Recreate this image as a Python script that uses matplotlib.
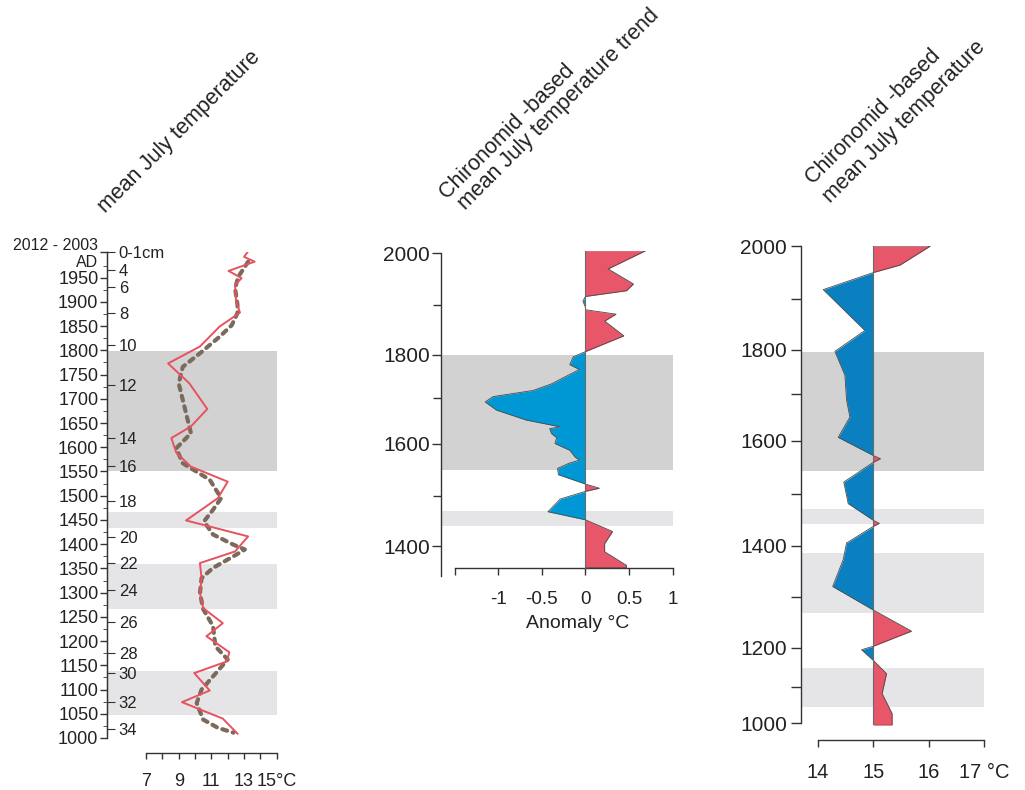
import numpy as np
import matplotlib
matplotlib.use("Agg")
import matplotlib.pyplot as plt

plt.rcParams["font.family"] = ["Liberation Sans", "DejaVu Sans"]

W, H = 1025, 790

# measured July temperature (solid) and its smoothed trend (dashed), year AD
obs_year = [2002, 1993, 1983, 1964, 1949, 1935, 1904, 1878, 1849, 1808, 1773,
            1732, 1679, 1643, 1619, 1589, 1560, 1529, 1512, 1495, 1449, 1416,
            1385, 1361, 1330, 1299, 1268, 1237, 1210, 1177, 1158, 1134, 1098,
            1074, 1040, 1009]
obs_temp = [13.2, 13.0, 13.65, 12.05, 12.85, 12.45, 12.5, 12.75, 11.5, 10.3, 8.35,
            9.65, 10.75, 9.75, 8.55, 8.85, 9.75, 12.0, 11.7, 11.4, 9.45, 13.25,
            12.45, 10.3, 10.4, 10.3, 10.5, 11.7, 10.7, 12.1, 11.95, 9.95, 10.9,
            9.2, 11.7, 12.6]
smooth_year = [1983, 1952, 1928, 1894, 1877, 1852, 1828, 1794, 1766, 1732, 1684,
               1629, 1598, 1567, 1533, 1495, 1471, 1447, 1420, 1399, 1389, 1375,
               1351, 1330, 1299, 1266, 1231, 1189, 1162, 1127, 1100, 1072, 1038,
               1021, 1011]
smooth_temp = [13.25, 12.65, 12.45, 12.6, 12.6, 12.25, 11.5, 10.3, 9.25, 9.0, 9.35,
               9.75, 8.85, 9.25, 10.9, 11.6, 11.1, 10.55, 11.1, 12.35, 13.05, 12.35,
               11.1, 10.4, 10.3, 10.5, 11.1, 11.25, 12.0, 11.1, 10.4, 10.1, 10.5,
               11.4, 12.35]

# sediment depth marks on the left age axis
depth_labels = ["0-1cm", "4", "6", "8", "10", "12", "14", "16", "18", "20",
                "22", "24", "26", "28", "30", "32", "34"]
depth_year = [2003, 1966, 1931, 1877, 1811, 1729, 1620, 1562, 1490, 1415,
              1362, 1305, 1239, 1176, 1135, 1075, 1018]

# chironomid-based July temperature trend (anomaly, °C)
trend_year = [2005, 2005, 1970, 1961, 1941, 1928, 1917, 1908, 1896, 1891, 1882,
              1868, 1838, 1806, 1795, 1777, 1766, 1733, 1718, 1704, 1692, 1674,
              1652, 1637, 1633, 1622, 1613, 1600, 1587, 1574, 1568, 1562, 1552,
              1540, 1522, 1514, 1508, 1493, 1468, 1452, 1429, 1405, 1389, 1362,
              1357, 1357]
trend_anom = [0.0, 0.69, 0.26, 0.35, 0.55, 0.47, 0.0, -0.03, 0.0, 0.0, 0.35,
              0.22, 0.44, 0.0, -0.14, -0.18, -0.07, -0.39, -0.6, -1.06, -1.15, -1.02,
              -0.68, -0.29, -0.41, -0.39, -0.33, -0.35, -0.18, -0.12, -0.07, -0.19, -0.32,
              -0.31, 0.0, 0.16, 0.0, -0.29, -0.43, 0.0, 0.31, 0.22, 0.22, 0.47,
              0.47, 0.0]

# chironomid-based July temperature (°C), drawn against 15 °C
recon_year = [2000, 2000, 1964, 1950, 1918, 1838, 1796, 1743, 1688, 1651, 1607,
              1572, 1566, 1559, 1522, 1481, 1449, 1443, 1437, 1405, 1373, 1321,
              1275, 1233, 1203, 1195, 1168, 1134, 1082, 1027, 995, 995]
recon_temp = [15.0, 16.03, 15.48, 15.0, 14.1, 14.85, 14.31, 14.49, 14.52, 14.58, 14.37,
              15.0, 15.13, 15.0, 14.47, 14.55, 15.0, 15.11, 15.0, 14.52, 14.46, 14.27,
              15.0, 15.69, 15.0, 14.79, 15.0, 15.24, 15.16, 15.34, 15.34, 15.0]
recon_base = 15.0

# age-depth model used for the chironomid columns (depth in cm)
age_model_year = np.array([900, 1000, 1100, 1200, 1300, 1400, 1500, 1600, 1700,
                           1800, 1900, 2000, 2050])
age_model_depth = np.array([36.7, 34.1, 31.5, 28.7, 25.1, 21.4, 17.7, 13.9, 10.6,
                            7.4, 3.8, 0.0, -1.9])

# cold periods (year ranges)
cold_left = [(1798, 1550), (1466, 1434), (1359, 1267), (1139, 1048)]
cold_mid = [(1800, 1549), (1469, 1440)]
cold_right = [(1795, 1542), (1470, 1442), (1385, 1269), (1148, 1044)]

RED = "#e8566a"
BLUE_MID = "#0098d4"
BLUE_RIGHT = "#0a80c0"
LINE_RED = "#e8525f"
DASH = "#7b6b5d"
SHADE_DARK = "#d2d2d2"
SHADE_LIGHT = "#e5e5e7"
SPINE = "#333333"
TEXT = "#222222"


def to_depth(y):
    return np.interp(y, age_model_year, -age_model_depth)


def to_year(d):
    return np.interp(d, -age_model_depth, age_model_year)


def rect(x0, y0, x1, y1):
    return [x0 / W, 1 - y1 / H, (x1 - x0) / W, (y1 - y0) / H]


def shade(ax, bands):
    for i, (top, bottom) in enumerate(bands):
        ax.axhspan(bottom, top, color=SHADE_DARK if i == 0 else SHADE_LIGHT,
                   lw=0, zorder=0)


def style_axes(ax):
    for side in ("top", "right"):
        ax.spines[side].set_visible(False)
    for side in ("left", "bottom"):
        ax.spines[side].set_color(SPINE)
        ax.spines[side].set_linewidth(1.0)
    ax.tick_params(colors=SPINE, labelcolor=TEXT, width=1.0)
    ax.patch.set_visible(False)


fig = plt.figure(figsize=(W / 100, H / 100), dpi=100)

# ---- left: measured temperature with depth scale
ax1 = fig.add_axes(rect(107, 252.0, 276.7, 738))
style_axes(ax1)
shade(ax1, cold_left)
ax1.plot(smooth_temp, smooth_year, color=DASH, lw=3.0, dashes=(1.2, 1.4),
         dash_capstyle="round", zorder=2)
ax1.plot(obs_temp, obs_year, color=LINE_RED, lw=1.4, zorder=3)
ax1.set_xlim(4.61, 15.0)
ax1.set_ylim(1000, 2003)
ax1.spines["left"].set_bounds(1000, 2003)
ax1.spines["bottom"].set_position(("outward", 10.8))
ax1.spines["bottom"].set_bounds(7, 15)
ax1.set_xticks(range(7, 16))
ax1.set_xticklabels(["7", "", "9", "", "11", "", "13", "", "15°C"])
ax1.tick_params(axis="x", length=4, pad=10.5, labelsize=13)
year_ticks = [2003] + list(range(1950, 999, -50))
year_labels = ["2012 - 2003\nAD"] + [str(y) for y in range(1950, 999, -50)]
ax1.set_yticks(year_ticks)
ax1.set_yticklabels(year_labels, multialignment="right", linespacing=1.1)
ax1.set_yticks(range(1025, 2000, 50), minor=True)
ax1.tick_params(axis="y", which="major", length=5, pad=1.2, labelsize=13)
ax1.tick_params(axis="y", which="minor", length=3, color=SPINE)
ax1.yaxis.get_majorticklabels()[0].set_fontsize(11.5)

axd = ax1.twinx()
axd.set_ylim(ax1.get_ylim())
for side in ("top", "left", "bottom"):
    axd.spines[side].set_visible(False)
axd.spines["right"].set_position(("axes", 0.0))
axd.spines["right"].set_bounds(1000, 2003)
axd.spines["right"].set_color(SPINE)
axd.set_yticks(depth_year)
axd.set_yticklabels(depth_labels)
axd.tick_params(axis="y", length=5.5, pad=3, labelsize=12, colors=SPINE,
                labelcolor=TEXT)

# ---- middle: temperature trend anomaly
ax2 = fig.add_axes(rect(441, 250.7, 672.7, 575.5))
style_axes(ax2)
ax2.set_yscale("function", functions=(to_depth, to_year))
shade(ax2, cold_mid)
t_year = np.array(trend_year)
t_anom = np.array(trend_anom)
ax2.fill_betweenx(t_year, 0, np.clip(t_anom, 0, None), color=RED, lw=0, zorder=2)
ax2.fill_betweenx(t_year, 0, np.clip(t_anom, None, 0), color=BLUE_MID, lw=0, zorder=2)
ax2.plot(t_anom, t_year, color="#4a4a4a", lw=0.6, zorder=3)
ax2.axvline(0, ymin=0.022, color="#6a6a6a", lw=0.8, zorder=3)
ax2.set_xlim(-1.656, 1.0)
ax2.set_ylim(1342, 2005)
ax2.spines["left"].set_bounds(1342, 2000)
ax2.spines["bottom"].set_position(("outward", -5.2))
ax2.spines["bottom"].set_bounds(-1.5, 1.0)
ax2.set_xticks([-1.5, -1, -0.5, 0, 0.5, 1])
ax2.set_xticklabels(["", "-1", "-0.5", "0", "0.5", "1"])
ax2.tick_params(axis="x", length=5, pad=11.5, labelsize=13.5)
ax2.set_yticks([1400, 1600, 1800, 2000])
ax2.set_yticklabels(["1400", "1600", "1800", "2000"])
ax2.set_yticks([1500, 1700, 1900], minor=True)
ax2.yaxis.set_minor_formatter(matplotlib.ticker.NullFormatter())
ax2.tick_params(axis="y", which="major", length=6.5, pad=1.5, labelsize=15)
ax2.tick_params(axis="y", which="minor", length=6, width=1.0, color=SPINE)

# ---- right: reconstructed temperature
ax3 = fig.add_axes(rect(801, 246, 984.3, 725.2))
style_axes(ax3)
ax3.set_yscale("function", functions=(to_depth, to_year))
shade(ax3, cold_right)
r_year = np.array(recon_year)
r_temp = np.array(recon_temp)
ax3.fill_betweenx(r_year, recon_base, np.clip(r_temp, recon_base, None),
                  color=RED, lw=0, zorder=2)
ax3.fill_betweenx(r_year, recon_base, np.clip(r_temp, None, recon_base),
                  color=BLUE_RIGHT, lw=0, zorder=2)
ax3.plot(r_temp, r_year, color="#4a4a4a", lw=0.6, zorder=3)
ax3.axvline(recon_base, color="#6a6a6a", lw=0.8, zorder=3)
ax3.set_xlim(13.70, 17.0)
ax3.set_ylim(995, 2000)
ax3.spines["left"].set_bounds(1000, 2000)
ax3.spines["bottom"].set_position(("outward", 10.7))
ax3.spines["bottom"].set_bounds(14, 17)
ax3.set_xticks([14, 15, 16, 17])
ax3.set_xticklabels(["14", "15", "16", "17 °C"])
ax3.tick_params(axis="x", length=5, pad=11.5, labelsize=14.5)
ax3.set_yticks(range(1000, 2001, 200))
ax3.set_yticklabels([str(y) for y in range(1000, 2001, 200)])
ax3.set_yticks(range(1100, 2000, 200), minor=True)
ax3.yaxis.set_minor_formatter(matplotlib.ticker.NullFormatter())
ax3.tick_params(axis="y", which="both", length=7, pad=3, labelsize=15)
ax3.tick_params(axis="y", which="minor", width=1.0, color=SPINE)

# ---- column headings
def heading(px, py, text):
    fig.text(px / W, 1 - py / H, text, rotation=45, rotation_mode="anchor",
             ha="left", va="baseline", fontsize=15.5, color=TEXT)


heading(105, 213, "mean July temperature")
heading(447, 200, "Chironomid -based")
heading(465, 210, "mean July temperature trend")
heading(813, 185, "Chironomid -based")
heading(830, 203, "mean July temperature")

fig.text(578 / W, 1 - 623 / H, "Anomaly °C", ha="center", va="center",
         fontsize=14, color=TEXT)

fig.savefig("out.png", dpi=100)
